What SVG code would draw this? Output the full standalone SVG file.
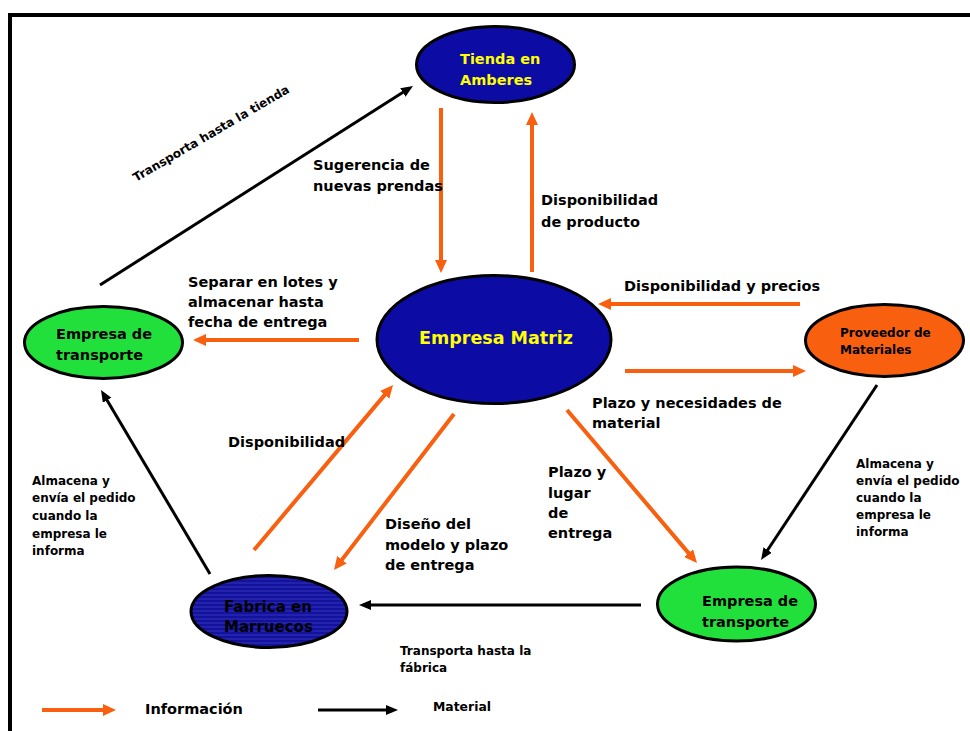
<svg xmlns="http://www.w3.org/2000/svg" width="970" height="731" viewBox="0 0 970 731">
<style>
text{font-family:"DejaVu Sans","Liberation Sans",sans-serif;font-weight:bold;fill:#000}
.lbl{font-size:14.5px}
.sm{font-size:12px}
.yel{fill:#ffff00}
.node{stroke:#000;stroke-width:3}
.info{stroke:#f86010;stroke-width:4;fill:none;marker-end:url(#ah-o)}
.mat{stroke:#000;stroke-width:3;fill:none;marker-end:url(#ah-k)}
</style>
<defs>
<marker id="ah-o" markerUnits="userSpaceOnUse" markerWidth="14" markerHeight="13" refX="3" refY="6" orient="auto">
<path d="M0,0 L13,6 L0,12 z" fill="#f86010"/>
</marker>
<marker id="ah-k" markerUnits="userSpaceOnUse" markerWidth="13" markerHeight="11" refX="3" refY="5" orient="auto">
<path d="M0,0 L12,5 L0,10 z" fill="#000"/>
</marker>
<pattern id="stripes" patternUnits="userSpaceOnUse" width="10" height="4">
<rect width="10" height="4" fill="#12129c"/>
<rect y="2" width="10" height="2" fill="#2222ac"/>
</pattern>
</defs>
<rect width="970" height="731" fill="#fff"/>
<rect x="10" y="15" width="990" height="760" fill="none" stroke="#000" stroke-width="4"/>

<g id="connectors">
<line class="info" x1="441" y1="108" x2="441" y2="263"/>
<line class="info" x1="532" y1="272" x2="532" y2="122"/>
<line class="info" x1="800" y1="304" x2="608" y2="304"/>
<line class="info" x1="625" y1="371" x2="796" y2="371"/>
<line class="info" x1="359" y1="340" x2="203" y2="340"/>
<line class="info" x1="254" y1="550" x2="386.6" y2="392.6"/>
<line class="info" x1="454" y1="414" x2="340.1" y2="562.1"/>
<line class="info" x1="567" y1="410" x2="690.5" y2="555.4"/>
<line class="mat" x1="100" y1="285" x2="405.4" y2="90.8"/>
<line class="mat" x1="210" y1="574" x2="105.6" y2="397.7"/>
<line class="mat" x1="877" y1="385" x2="766" y2="552.5"/>
<line class="mat" x1="641" y1="605" x2="368" y2="605"/>
</g>

<g id="tienda">
<ellipse class="node" cx="495.5" cy="64.5" rx="79" ry="38" fill="#0c0ca4"/>
<text class="yel" x="460" y="64" font-size="14.5">Tienda en</text>
<text class="yel" x="460" y="85" font-size="14.5">Amberes</text>
</g>

<g id="matriz">
<ellipse class="node" cx="494" cy="339.5" rx="117" ry="64" fill="#0c0ca4"/>
<text class="yel" x="496" y="344" font-size="17.5" text-anchor="middle">Empresa Matriz</text>
</g>

<g id="transporte-izq">
<ellipse class="node" cx="103.5" cy="342.5" rx="79" ry="36" fill="#22e03c"/>
<text x="56" y="339" font-size="14.5">Empresa de</text>
<text x="56" y="360" font-size="14.5">transporte</text>
</g>

<g id="proveedor">
<ellipse class="node" cx="884.5" cy="340.5" rx="79" ry="36" fill="#f86010"/>
<text x="840" y="337" font-size="12">Proveedor de</text>
<text x="840" y="354" font-size="12">Materiales</text>
</g>

<g id="transporte-der">
<ellipse class="node" cx="736.5" cy="604" rx="79" ry="37" fill="#22e03c"/>
<text x="702" y="606" font-size="14.5">Empresa de</text>
<text x="702" y="627" font-size="14.5">transporte</text>
</g>

<g id="fabrica">
<ellipse class="node" cx="269" cy="611.5" rx="78" ry="36" fill="url(#stripes)"/>
<text x="224" y="612" font-size="15">Fabrica en</text>
<text x="224" y="632" font-size="15">Marruecos</text>
</g>

<g id="labels">
<text class="sm" transform="translate(136,182) rotate(-30.3)" font-size="12.6">Transporta hasta la tienda</text>
<text class="lbl" x="313" y="170">Sugerencia de</text>
<text class="lbl" x="313" y="191">nuevas prendas</text>
<text class="lbl" x="541" y="205">Disponibilidad</text>
<text class="lbl" x="541" y="227">de producto</text>
<text class="lbl" x="624" y="291">Disponibilidad y precios</text>
<text class="lbl" x="188" y="287">Separar en lotes y</text>
<text class="lbl" x="188" y="307">almacenar hasta</text>
<text class="lbl" x="188" y="327">fecha de entrega</text>
<text class="lbl" x="592" y="408">Plazo y necesidades de</text>
<text class="lbl" x="592" y="428">material</text>
<text class="lbl" x="228" y="447">Disponibilidad</text>
<text class="lbl" x="548" y="477">Plazo y</text>
<text class="lbl" x="548" y="498">lugar</text>
<text class="lbl" x="548" y="518">de</text>
<text class="lbl" x="548" y="538">entrega</text>
<text class="lbl" x="385" y="529">Diseño del</text>
<text class="lbl" x="385" y="550">modelo y plazo</text>
<text class="lbl" x="385" y="570">de entrega</text>
<text class="sm" x="32" y="485">Almacena y</text>
<text class="sm" x="32" y="502">envía el pedido</text>
<text class="sm" x="32" y="520">cuando la</text>
<text class="sm" x="32" y="538">empresa le</text>
<text class="sm" x="32" y="555">informa</text>
<text class="sm" x="856" y="468">Almacena y</text>
<text class="sm" x="856" y="485">envía el pedido</text>
<text class="sm" x="856" y="502">cuando la</text>
<text class="sm" x="856" y="519">empresa le</text>
<text class="sm" x="856" y="536">informa</text>
<text class="sm" x="400" y="655">Transporta hasta la</text>
<text class="sm" x="400" y="672">fábrica</text>
</g>

<g id="legend">
<line class="info" x1="42" y1="710" x2="106" y2="710"/>
<text x="145" y="714" font-size="14.5">Información</text>
<line class="mat" x1="318" y1="710" x2="389" y2="710"/>
<text x="433" y="711" font-size="12.4">Material</text>
</g>
</svg>
